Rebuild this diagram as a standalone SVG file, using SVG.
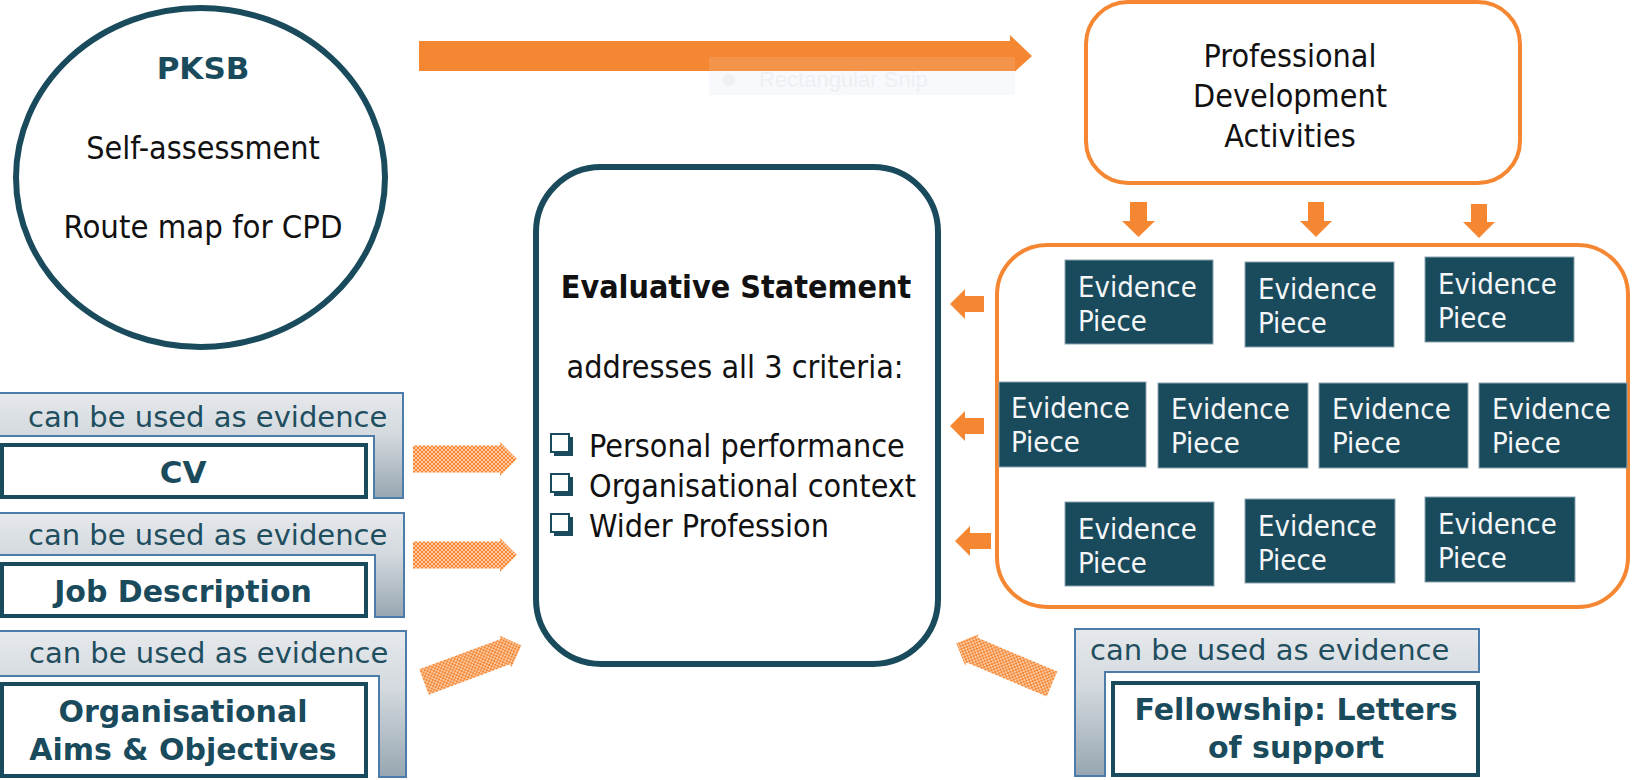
<svg xmlns="http://www.w3.org/2000/svg" width="1632" height="780" viewBox="0 0 1632 780">
<style>
  text { font-family: "DejaVu Sans Condensed", "DejaVu Sans", Tahoma, sans-serif; }
  .wide { font-family: "DejaVu Sans", Verdana, sans-serif; }
  .teal { fill: #1a4b5d; }
  .blk { fill: #111111; }
  .b { font-weight: bold; }
  .s32 { font-size: 32px; }
  .s31 { font-size: 31px; }
  .s30 { font-size: 30px; }
  .mid { text-anchor: middle; }
  .orange { fill: #f58733; }
  .ev rect { fill: #1a4b5d; stroke: #8aa3b0; stroke-width: 1; }
  .ev text { fill: #f4f6f7; font-size: 29px; }
  .panel { fill: url(#gpanel); stroke: #4c7caa; stroke-width: 2; }
  .wbox { fill: #ffffff; stroke: #1a4b5d; stroke-width: 4; }
  .cap { fill: #1f4e5f; font-size: 29px; font-family: "DejaVu Sans", Verdana, sans-serif; }
  .dot { fill: url(#checker); }
</style>
<defs>
  <pattern id="checker" width="4" height="4" patternUnits="userSpaceOnUse">
    <rect x="0" y="0" width="2" height="2" fill="#f58733"/>
    <rect x="2" y="2" width="2" height="2" fill="#f58733"/>
    <rect x="2" y="0" width="2" height="2" fill="#fbc9a2"/>
    <rect x="0" y="2" width="2" height="2" fill="#fbc9a2"/>
  </pattern>
  <linearGradient id="gpanel" x1="0" y1="0" x2="0" y2="1">
    <stop offset="0" stop-color="#e6e9ec"/>
    <stop offset="0.4" stop-color="#d3d9de"/>
    <stop offset="1" stop-color="#97a6b1"/>
  </linearGradient>
  <path id="darrow" d="M0,-13.5 H87 V-17 L104,0 L87,17 V13.5 H0 Z"/>
</defs>

<g id="connectors">
  <polygon class="orange" points="419,41 1010,41 1010,35 1032,56 1010,76 1010,71 419,71"/>
  <polygon class="orange" points="1130,202 1147,202 1147,221 1155,221 1138.5,237 1122,221 1130,221"/>
  <polygon class="orange" points="1308,202 1324,202 1324,221 1332,221 1316,237 1300,221 1308,221"/>
  <polygon class="orange" points="1471,204 1487,204 1487,222 1495,222 1479,238 1463,222 1471,222"/>
  <polygon class="orange" points="950,304 965,289 965,296 984,296 984,312 965,312 965,319"/>
  <polygon class="orange" points="950,426 965,411 965,418 984,418 984,434 965,434 965,441"/>
  <polygon class="orange" points="955,541 970,526 970,533 991,533 991,549 970,549 970,556"/>
  <use href="#darrow" class="dot" transform="translate(413,459)"/>
  <use href="#darrow" class="dot" transform="translate(413,555)"/>
  <use href="#darrow" class="dot" transform="translate(424,682) rotate(-20.5)"/>
  <use href="#darrow" class="dot" transform="translate(1052,684) rotate(203)"/>
</g>

<g id="snip">
  <rect x="709" y="57" width="306" height="38" fill="#eef3f9" fill-opacity="0.12"/>
  <rect x="709" y="71" width="306" height="24" fill="#f7f9fc"/>
  <circle cx="729" cy="80" r="6" fill="#eef0f2"/>
  <text x="759" y="87" font-size="22" fill="#edf0f3" style="font-family:'Liberation Sans',sans-serif">Rectangular Snip</text>
</g>

<g id="pksb">
  <ellipse cx="200.5" cy="177.5" rx="184.5" ry="169.5" fill="#ffffff" stroke="#1a4b5d" stroke-width="6"/>
  <text x="203" y="79" class="teal b wide s31 mid">PKSB</text>
  <text x="203" y="159" class="blk s32 mid">Self-assessment</text>
  <text x="203" y="238" class="blk s32 mid" textLength="279" lengthAdjust="spacingAndGlyphs">Route map for CPD</text>
</g>

<g id="pda">
  <rect x="1086" y="2" width="434" height="181" rx="42" fill="#ffffff" stroke="#f58733" stroke-width="4"/>
  <text x="1290" y="67" class="blk s32 mid">Professional</text>
  <text x="1290" y="107" class="blk s32 mid">Development</text>
  <text x="1290" y="147" class="blk s32 mid">Activities</text>
</g>

<g id="evaluative">
  <rect x="536" y="167" width="402" height="497" rx="65" fill="#ffffff" stroke="#1a4b5d" stroke-width="6"/>
  <text x="736" y="298" class="blk b s32 mid">Evaluative Statement</text>
  <text x="735" y="378" class="blk s32 mid">addresses all 3 criteria:</text>
  <rect x="554" y="437" width="19" height="19" fill="#1a4b5d"/>
  <rect x="551" y="434" width="18" height="18" fill="#ffffff" stroke="#1a4b5d" stroke-width="2"/>
  <rect x="554" y="477" width="19" height="19" fill="#1a4b5d"/>
  <rect x="551" y="474" width="18" height="18" fill="#ffffff" stroke="#1a4b5d" stroke-width="2"/>
  <rect x="554" y="517" width="19" height="19" fill="#1a4b5d"/>
  <rect x="551" y="514" width="18" height="18" fill="#ffffff" stroke="#1a4b5d" stroke-width="2"/>
  <text x="589" y="457" class="blk s32">Personal performance</text>
  <text x="589" y="497" class="blk s32">Organisational context</text>
  <text x="589" y="537" class="blk s32">Wider Profession</text>
</g>

<g id="evidence-container">
  <rect x="997" y="245" width="631" height="362" rx="50" fill="#ffffff" stroke="#f58733" stroke-width="4"/>
</g>

<g id="evidence-pieces" class="ev">
  <g id="ev1"><rect x="1065" y="260" width="148" height="84"/><text x="1078" y="297">Evidence</text><text x="1078" y="331">Piece</text></g>
  <g id="ev2"><rect x="1245" y="262" width="149" height="85"/><text x="1258" y="299">Evidence</text><text x="1258" y="333">Piece</text></g>
  <g id="ev3"><rect x="1425" y="257" width="149" height="85"/><text x="1438" y="294">Evidence</text><text x="1438" y="328">Piece</text></g>
  <g id="ev4"><rect x="999" y="382" width="147" height="85"/><text x="1011" y="418">Evidence</text><text x="1011" y="452">Piece</text></g>
  <g id="ev5"><rect x="1158" y="383" width="150" height="85"/><text x="1171" y="419">Evidence</text><text x="1171" y="453">Piece</text></g>
  <g id="ev6"><rect x="1319" y="383" width="149" height="85"/><text x="1332" y="419">Evidence</text><text x="1332" y="453">Piece</text></g>
  <g id="ev7"><rect x="1479" y="383" width="148" height="85"/><text x="1492" y="419">Evidence</text><text x="1492" y="453">Piece</text></g>
  <g id="ev8"><rect x="1065" y="502" width="149" height="84"/><text x="1078" y="539">Evidence</text><text x="1078" y="573">Piece</text></g>
  <g id="ev9"><rect x="1245" y="499" width="150" height="84"/><text x="1258" y="536">Evidence</text><text x="1258" y="570">Piece</text></g>
  <g id="ev10"><rect x="1425" y="497" width="150" height="85"/><text x="1438" y="534">Evidence</text><text x="1438" y="568">Piece</text></g>
</g>

<g id="cv">
  <path class="panel" d="M-2,393 H403 V498 H374 V436 H-2 Z"/>
  <text x="28" y="427" class="cap">can be used as evidence</text>
  <rect class="wbox" x="2" y="445" width="364" height="52"/>
  <text x="183" y="483" class="teal b wide s31 mid">CV</text>
</g>

<g id="job">
  <path class="panel" d="M-2,513 H404 V617 H375 V555 H-2 Z"/>
  <text x="28" y="545" class="cap">can be used as evidence</text>
  <rect class="wbox" x="2" y="564" width="364" height="52"/>
  <text x="183" y="602" class="teal b wide s30 mid">Job Description</text>
</g>

<g id="aims">
  <path class="panel" d="M-2,631 H406 V777 H379 V676 H-2 Z"/>
  <text x="29" y="663" class="cap">can be used as evidence</text>
  <rect class="wbox" x="2" y="684" width="364" height="92"/>
  <text x="183" y="722" class="teal b wide s30 mid">Organisational</text>
  <text x="183" y="760" class="teal b wide s30 mid">Aims &amp; Objectives</text>
</g>

<g id="fellowship">
  <path class="panel" d="M1075,629 H1479 V672 H1105 V776 H1075 Z"/>
  <text x="1090" y="660" class="cap">can be used as evidence</text>
  <rect class="wbox" x="1113" y="683" width="365" height="92"/>
  <text x="1296" y="720" class="teal b wide s30 mid">Fellowship: Letters</text>
  <text x="1296" y="758" class="teal b wide s30 mid">of support</text>
</g>
</svg>
